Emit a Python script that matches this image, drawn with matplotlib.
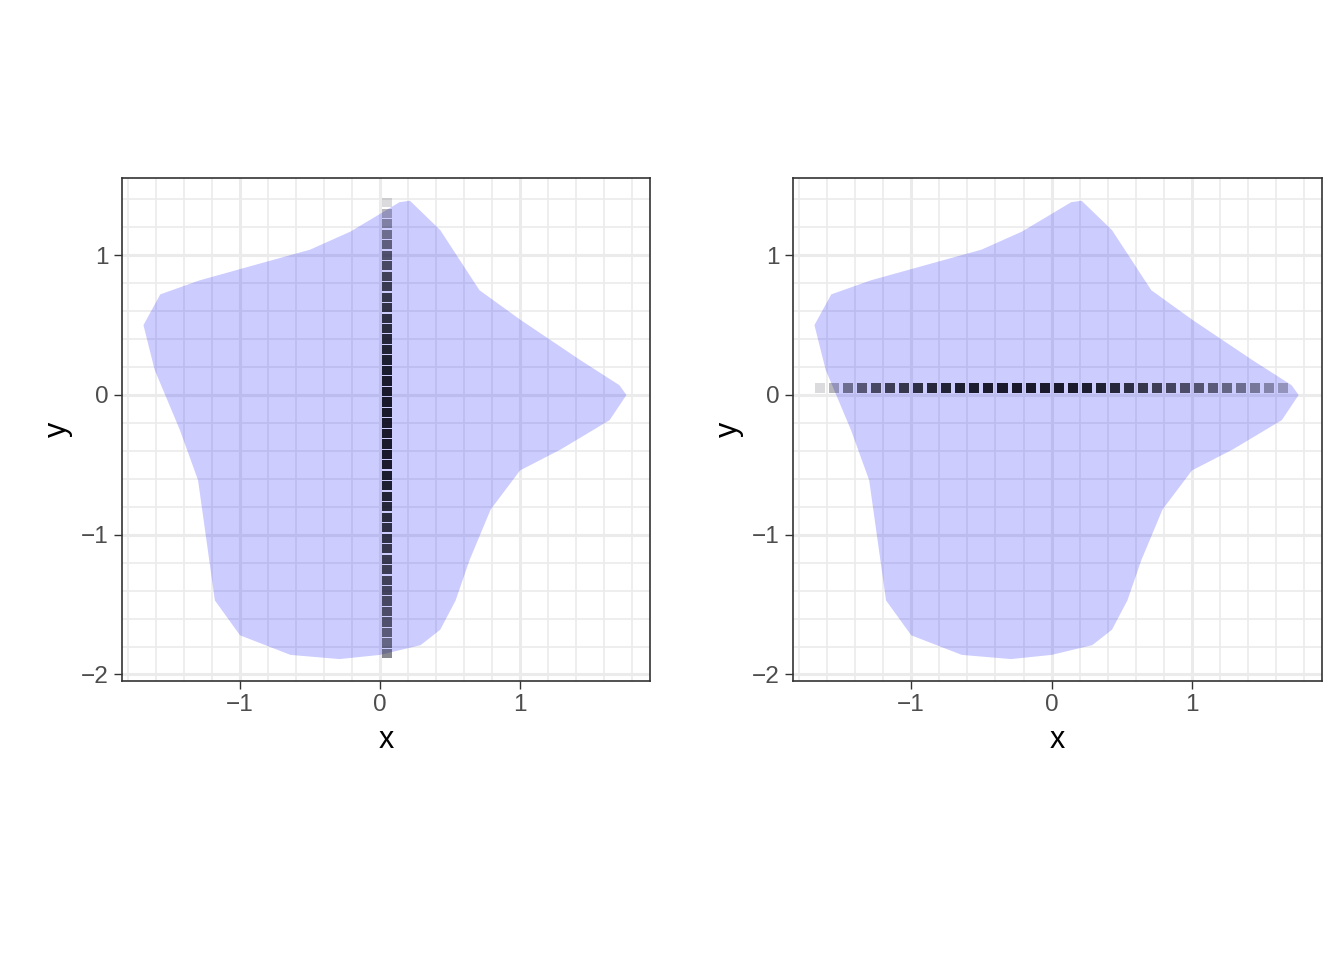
import numpy as np
import matplotlib
matplotlib.use('Agg')
import matplotlib.pyplot as plt
from matplotlib.ticker import MultipleLocator
from matplotlib.colors import to_rgba

plt.rcParams['font.family'] = ['Liberation Sans', 'DejaVu Sans']

# blob outline (x, y)
blob_x = [0.214, 0.43, 0.71, 1.0, 1.43, 1.71, 1.76, 1.64, 1.29, 1.0, 0.79, 0.64, 0.54, 0.43,
          0.29, 0.0, -0.29, -0.64, -1.0, -1.18, -1.24, -1.3, -1.43, -1.61, -1.69, -1.57, -1.29,
          -0.86, -0.5, -0.21, 0.04, 0.14]
blob_y = [1.39, 1.18, 0.75, 0.54, 0.25, 0.07, 0.0, -0.18, -0.39, -0.54, -0.82, -1.18, -1.47, -1.68,
          -1.79, -1.86, -1.89, -1.86, -1.72, -1.47, -1.04, -0.61, -0.25, 0.18, 0.5, 0.72, 0.82,
          0.94, 1.04, 1.17, 1.32, 1.38]

# vertical slice (left panel)
v_x = 0.05
v_y = [-1.85, -1.775, -1.70, -1.625, -1.55, -1.475, -1.40, -1.325, -1.25, -1.175, -1.10,
       -1.025, -0.95, -0.875, -0.80, -0.725, -0.65, -0.575, -0.50, -0.425, -0.35, -0.275,
       -0.20, -0.125, -0.05, 0.025, 0.10, 0.175, 0.25, 0.325, 0.40, 0.475, 0.55, 0.625,
       0.70, 0.775, 0.85, 0.925, 1.0, 1.075, 1.15, 1.225, 1.30, 1.375]
v_alpha = [0.5, 0.55, 0.6, 0.65, 0.68, 0.7, 0.72, 0.74, 0.76, 0.78, 0.8,
           0.82, 0.84, 0.86, 0.88, 0.9, 0.92, 0.93, 0.94, 0.95, 0.95, 0.95,
           0.95, 0.95, 0.95, 0.95, 0.94, 0.93, 0.92, 0.9, 0.88, 0.86, 0.84, 0.82,
           0.8, 0.77, 0.74, 0.7, 0.65, 0.58, 0.5, 0.4, 0.3, 0.15]

# horizontal slice (right panel)
h_y = 0.05
h_x = [-1.65, -1.55, -1.45, -1.35, -1.25, -1.15, -1.05, -0.95, -0.85, -0.75, -0.65, -0.55,
       -0.45, -0.35, -0.25, -0.15, -0.05, 0.05, 0.15, 0.25, 0.35, 0.45, 0.55, 0.65, 0.75,
       0.85, 0.95, 1.05, 1.15, 1.25, 1.35, 1.45, 1.55, 1.65]
h_alpha = [0.15, 0.3, 0.5, 0.62, 0.7, 0.76, 0.8, 0.84, 0.87, 0.9, 0.92, 0.93,
           0.94, 0.95, 0.95, 0.95, 0.95, 0.95, 0.94, 0.93, 0.91, 0.88, 0.84, 0.8, 0.76,
           0.72, 0.68, 0.64, 0.6, 0.55, 0.5, 0.45, 0.38, 0.3]

fig = plt.figure(figsize=(6.72, 4.8), dpi=200)
ax1 = fig.add_axes([0.0908, 0.2906, 0.393, 0.524])
ax2 = fig.add_axes([0.590, 0.2906, 0.394, 0.524])


def style(ax):
    ax.set_xlim(-1.843, 1.93)
    ax.set_ylim(-2.047, 1.553)
    ax.xaxis.set_major_locator(MultipleLocator(1))
    ax.yaxis.set_major_locator(MultipleLocator(1))
    ax.xaxis.set_minor_locator(MultipleLocator(0.2))
    ax.yaxis.set_minor_locator(MultipleLocator(0.2))
    ax.grid(True, which='major', color='#ebebeb', lw=1.1)
    ax.grid(True, which='minor', color='#ebebeb', lw=0.6)
    ax.set_axisbelow(True)
    ax.tick_params(which='minor', length=0)
    ax.tick_params(which='major', length=2.75, width=0.5, color='#333333',
                   labelsize=8.8, labelcolor='#4d4d4d', pad=2)
    for s in ax.spines.values():
        s.set_color('#333333')
        s.set_linewidth(0.6)
    ax.set_xlabel('x', fontsize=11, labelpad=3)
    ax.set_ylabel('y', fontsize=11, labelpad=3)
    ax.fill(blob_x, blob_y, color='blue', alpha=0.2, lw=0)


style(ax1)
style(ax2)
ax1.scatter([v_x] * len(v_y), v_y, marker='s', s=11, lw=0,
            c=[to_rgba('#101020', a) for a in v_alpha], zorder=3)
ax2.scatter(h_x, [h_y] * len(h_x), marker='s', s=13, lw=0,
            c=[to_rgba('#101020', a) for a in h_alpha], zorder=3)

fig.savefig('out.png', dpi=200)
